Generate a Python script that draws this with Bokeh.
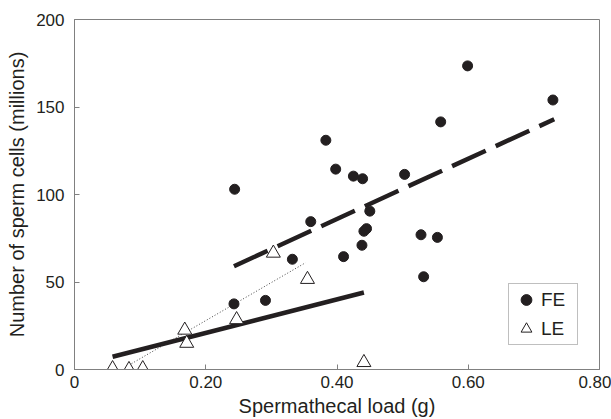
from bokeh.plotting import figure
from bokeh.models import FixedTicker, Legend, LegendItem, Range1d
from bokeh.embed import file_html
from bokeh.resources import INLINE

# ---- data ----
fe_x = [0.244, 0.243, 0.291, 0.332, 0.360, 0.383, 0.398, 0.410, 0.425, 0.438, 0.439,
        0.441, 0.445, 0.450, 0.503, 0.528, 0.532, 0.553, 0.558, 0.599, 0.729]
fe_y = [103, 37.5, 39.5, 63, 84.5, 131, 114.5, 64.5, 110.5, 71, 109,
        79, 80.5, 90.5, 111.5, 77, 53, 75.5, 141.5, 173.5, 154]

le_x = [0.058, 0.083, 0.104, 0.168, 0.171, 0.247, 0.303, 0.355, 0.441]
le_y = [0.5, 0, 0.5, 22.5, 15, 28.5, 66.5, 51.5, 4]

fe_fit_x = [0.243, 0.731]
fe_fit_y = [59, 143]
le_fit_x = [0.058, 0.441]
le_fit_y = [7.3, 44]
le_fit2_x = [0.083, 0.352]
le_fit2_y = [2.5, 61]

x_ticks = [0, 0.2, 0.4, 0.6, 0.8]
x_tick_labels = ["0", "0.20", "0.40", "0.60", "0.80"]
y_ticks = [0, 50, 100, 150, 200]
y_tick_labels = ["0", "50", "100", "150", "200"]

FONT = "Liberation Sans"
INK = "#231f20"
GRAY = "#808080"

p = figure(width=611, height=419, x_range=Range1d(0, 0.8), y_range=Range1d(0, 200),
           output_backend="svg", toolbar_location=None,
           min_border_left=74, min_border_right=12, min_border_top=19, min_border_bottom=48)
p.grid.visible = False
p.outline_line_color = GRAY
p.outline_line_width = 1

for ax in (p.xaxis[0], p.yaxis[0]):
    ax.axis_line_color = GRAY
    ax.major_tick_line_color = GRAY
    ax.major_tick_in = 5
    ax.major_tick_out = 0
    ax.minor_tick_line_color = None
    ax.major_label_text_font = FONT
    ax.major_label_text_font_size = "17px"
    ax.major_label_text_color = INK
    ax.axis_label_text_font = FONT
    ax.axis_label_text_font_size = "20px"
    ax.axis_label_text_font_style = "normal"
    ax.axis_label_text_color = INK

p.xaxis.ticker = FixedTicker(ticks=x_ticks)
p.xaxis.major_label_overrides = dict(zip(x_ticks, x_tick_labels))
p.yaxis.ticker = FixedTicker(ticks=y_ticks)
p.yaxis.major_label_overrides = dict(zip(y_ticks, y_tick_labels))
p.xaxis.axis_label = "Spermathecal load (g)"
p.yaxis.axis_label = "Number of sperm cells (millions)"
p.xaxis.major_label_standoff = 6
p.yaxis.major_label_standoff = 10
p.xaxis.axis_label_standoff = 4
p.yaxis.axis_label_standoff = 5

# fit lines
p.line(le_fit2_x, le_fit2_y, line_color="#444444", line_width=1, line_dash="1 2")
p.line(le_fit_x, le_fit_y, line_color=INK, line_width=4.5)
p.line(fe_fit_x, fe_fit_y, line_color=INK, line_width=4.5, line_dash="37 11")

fe = p.scatter(fe_x, fe_y, marker="circle", size=10, fill_color=INK, line_color=INK)
le = p.scatter(le_x, le_y, marker="triangle", size=14, fill_color="white",
               line_color=INK, line_width=1)

legend = Legend(items=[LegendItem(label="FE", renderers=[fe]),
                       LegendItem(label="LE", renderers=[le])],
                location=(434, 24))
legend.border_line_color = GRAY
legend.border_line_width = 1
legend.background_fill_color = "white"
legend.background_fill_alpha = 1
legend.label_text_font = FONT
legend.label_text_font_size = "19px"
legend.label_text_color = INK
legend.glyph_width = 30
legend.glyph_height = 27
legend.label_standoff = 0
legend.label_width = 34
legend.padding = 2
legend.spacing = 2
legend.margin = 0
p.add_layout(legend)

open("out.html", "w").write(file_html(p, INLINE))
